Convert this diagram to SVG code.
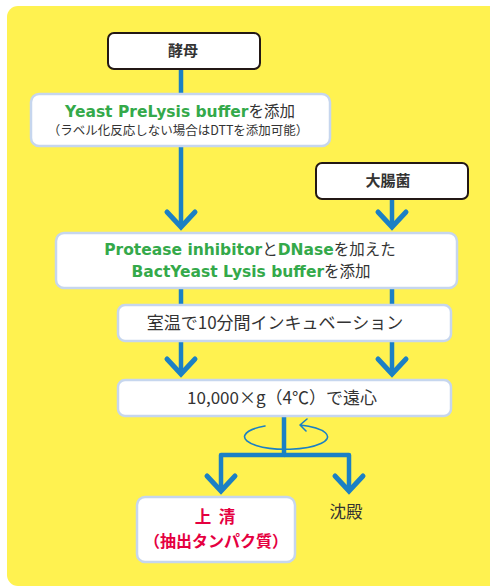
<svg xmlns="http://www.w3.org/2000/svg" width="490" height="587" viewBox="0 0 490 587">
<defs>
<style>
.bg{fill:#fff250}
.nodeK{fill:#fff;stroke:#231815;stroke-width:2}
.nodeB{fill:#fff;stroke:#c6d6ee;stroke-width:2.5}
.flow{fill:none;stroke:#1b80c4;stroke-width:4.5;stroke-linejoin:round}
.thin{fill:none;stroke:#1b80c4;stroke-width:1.6;stroke-linecap:round}
.jp{font-family:"Noto Sans CJK JP","DejaVu Sans",sans-serif;fill:#333}
.b{font-weight:bold}
.g{font-family:"DejaVu Sans","Noto Sans CJK JP",sans-serif;font-weight:bold;fill:#34a94a}
.red{fill:#e5003f;font-weight:bold}
</style>
<marker id="chev" viewBox="-20 -20 40 40" markerUnits="userSpaceOnUse" markerWidth="40" markerHeight="40" refX="0" refY="0" orient="auto">
<path d="M-15,-14 L0,0 L-15,14" fill="none" stroke="#1b80c4" stroke-width="5" stroke-linecap="round" stroke-linejoin="miter"/>
</marker>
</defs>
<rect class="bg" x="7" y="6" width="500" height="580" rx="11"/>
<g id="connectors">
<path class="flow" d="M181,69 V227" marker-end="url(#chev)"/>
<path class="flow" d="M392,199 V227" marker-end="url(#chev)"/>
<path class="flow" d="M181,288 V374" marker-end="url(#chev)"/>
<path class="flow" d="M392,288 V374" marker-end="url(#chev)"/>
<path class="flow" d="M284,416 V455 H221 V491" marker-end="url(#chev)"/>
<path class="flow" d="M284,455 H349 V491" marker-end="url(#chev)"/>
<path class="thin" d="M265,426 A41.5,12.5 0 1 0 300,425 M300,425 L307,419 M300,425 L306,431"/>
</g>
<g id="yeast">
<rect class="nodeK" x="108" y="33" width="152" height="36" rx="6"/>
<text class="jp b" x="183" y="56" font-size="15" text-anchor="middle">酵母</text>
</g>
<g id="prelysis">
<rect class="nodeB" x="31" y="94" width="299" height="52" rx="8"/>
<text x="180" y="117" font-size="15.5" text-anchor="middle"><tspan class="g">Yeast PreLysis buffer</tspan><tspan class="jp">を添加</tspan></text>
<text class="jp" x="178" y="135" font-size="12.5" text-anchor="middle">（ラベル化反応しない場合はDTTを添加可能）</text>
</g>
<g id="ecoli">
<rect class="nodeK" x="316" y="163" width="152" height="36" rx="6"/>
<text class="jp b" x="388" y="186" font-size="15" text-anchor="middle">大腸菌</text>
</g>
<g id="lysis">
<rect class="nodeB" x="56" y="233" width="401" height="55" rx="8"/>
<text x="250" y="255" font-size="15.5" text-anchor="middle"><tspan class="g">Protease inhibitor</tspan><tspan class="jp">と</tspan><tspan class="g">DNase</tspan><tspan class="jp">を加えた</tspan></text>
<text x="251" y="277" font-size="15.5" text-anchor="middle"><tspan class="g">BactYeast Lysis buffer</tspan><tspan class="jp">を添加</tspan></text>
</g>
<g id="incubate">
<rect class="nodeB" x="118" y="305" width="333" height="36" rx="7"/>
<text class="jp" x="275" y="329" font-size="17" text-anchor="middle">室温で10分間インキュベーション</text>
</g>
<g id="centrifuge">
<rect class="nodeB" x="118" y="380" width="333" height="36" rx="7"/>
<text class="jp" x="282" y="404" font-size="17" text-anchor="middle">10,000×g（4℃）で遠心</text>
</g>
<g id="supernatant">
<rect class="nodeB" x="137" y="497" width="158" height="65" rx="8"/>
<text class="jp red" x="215" y="523" font-size="16.5" text-anchor="middle" xml:space="preserve">上  清</text>
<text class="jp red" x="216" y="547" font-size="16" text-anchor="middle">（抽出タンパク質）</text>
</g>
<g id="pellet">
<text class="jp" x="346" y="518" font-size="16.5" text-anchor="middle">沈殿</text>
</g>
</svg>
